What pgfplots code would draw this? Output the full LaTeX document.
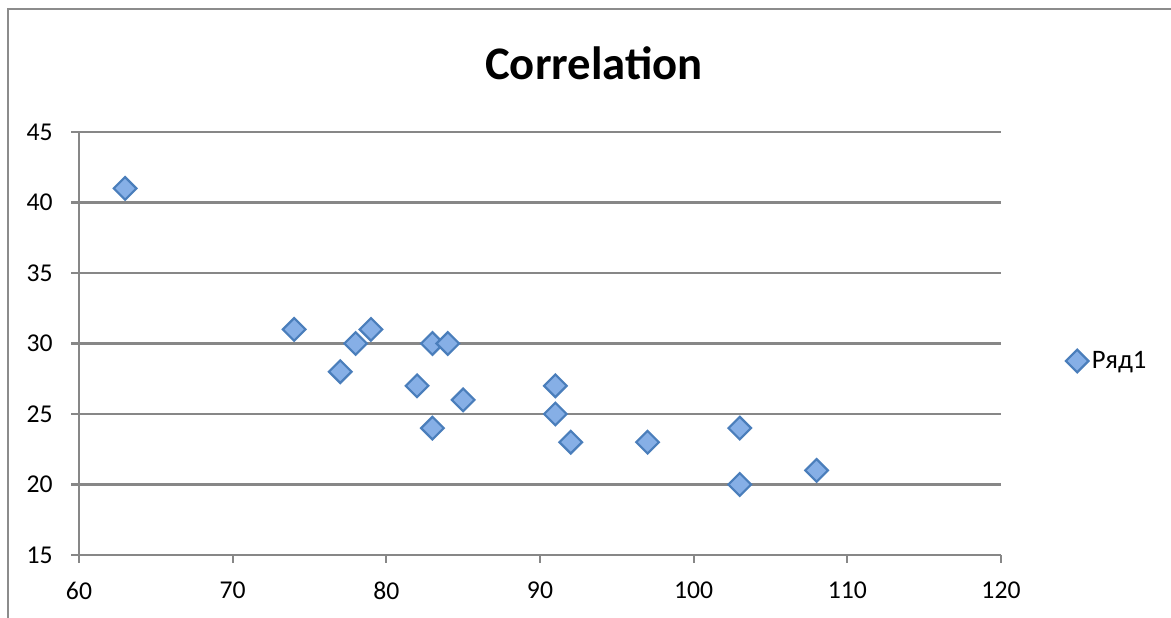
\documentclass[border=0pt]{standalone}
\usepackage{fontspec}
\setmainfont{Carlito}
\usepackage{pgfplots}
\pgfplotsset{compat=1.18}
\definecolor{gridgray}{HTML}{878787}
\definecolor{framegray}{HTML}{8C8C8C}
\definecolor{markfill}{HTML}{86AFE6}
\definecolor{markdraw}{HTML}{4A7EBB}
\begin{document}
% 1 px of the reference = 0.6pt
\begin{tikzpicture}
\useasboundingbox (0pt,0pt) rectangle (702.6pt,370.2pt);
\draw[framegray, line width=1.5pt] (4.8pt,-2pt) -- (4.8pt,364.8pt) -- (706pt,364.8pt);
\node[anchor=base, font=\fontsize{28}{32}\selectfont\bfseries] at (356.4pt,322.2pt) {Correlation};
\begin{axis}[
  at={(47.4pt,37.2pt)}, anchor=south west,
  scale only axis,
  width=553.2pt, height=253.8pt,
  xmin=60, xmax=120, ymin=15, ymax=45,
  xtick distance=10, ytick distance=5,
  axis lines=left,
  axis line style={-, draw=gridgray, line width=1.3pt},
  tick align=outside,
  major tick length=4.8pt,
  tick style={draw=gridgray, line width=1.3pt},
  ymajorgrids,
  grid style={draw=gridgray, line width=1.3pt},
  ticklabel style={font=\fontsize{15.4}{18}\selectfont, inner sep=0pt},
  /pgf/number format/assume math mode=true,
  yticklabel style={anchor=east, xshift=-10.8pt},
  xticklabel style={anchor=north, yshift=-11.4pt},
  legend style={draw=none, fill=none, at={(1.07,0.4586)}, anchor=west,
    font=\fontsize{16}{19}\selectfont, inner sep=0pt},
  legend image code/.code={\draw[#1] plot coordinates {(0pt,0pt)};},
]
\addplot[only marks, mark=square*,
  mark options={rotate=45, fill=markfill, draw=markdraw, line width=1.3pt},
  mark size=4.8pt]
  coordinates {
  (63,41) (74,31) (77,28) (78,30) (79,31) (82,27) (83,30) (83,24) (84,30)
  (85,26) (91,27) (91,25) (92,23) (97,23) (103,24) (103,20) (108,21)
  };
\addlegendentry{Ряд1}
\end{axis}
\end{tikzpicture}
\end{document}
